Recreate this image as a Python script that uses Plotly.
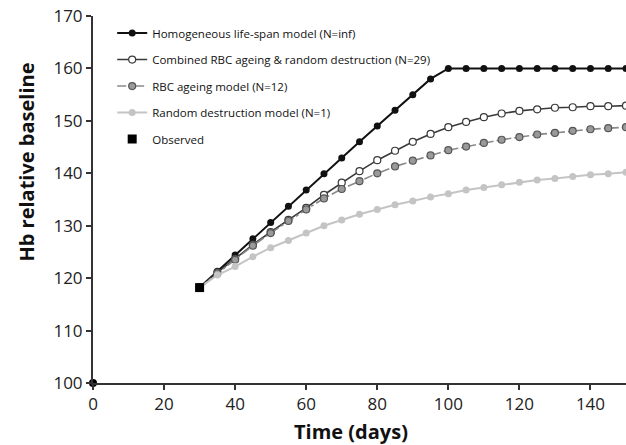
import plotly.graph_objects as go

# Time points (days) for the model curves
days = [30, 35, 40, 45, 50, 55, 60, 65, 70, 75, 80, 85, 90, 95, 100,
        105, 110, 115, 120, 125, 130, 135, 140, 145, 150]

# Hb relative to baseline for each model
homogeneous = [118.2, 121.3, 124.4, 127.5, 130.6, 133.7, 136.8, 139.9, 142.9, 146.0,
               149.0, 152.0, 155.0, 158.0, 160.0, 160.0, 160.0, 160.0, 160.0, 160.0,
               160.0, 160.0, 160.0, 160.0, 160.0]
combined = [118.2, 121.1, 123.7, 126.4, 128.8, 131.1, 133.4, 135.9, 138.2, 140.4,
            142.5, 144.3, 146.0, 147.5, 148.8, 149.8, 150.7, 151.4, 151.9, 152.2,
            152.5, 152.6, 152.8, 152.8, 152.9]
ageing = [118.2, 120.9, 123.5, 126.2, 128.6, 130.9, 133.1, 135.2, 137.0, 138.5,
          140.0, 141.3, 142.4, 143.4, 144.4, 145.1, 145.8, 146.4, 146.9, 147.4,
          147.7, 148.1, 148.4, 148.6, 148.8]
random_destr = [118.2, 120.6, 122.2, 124.1, 125.8, 127.2, 128.6, 130.0, 131.1, 132.2,
                133.1, 134.0, 134.7, 135.5, 136.1, 136.8, 137.3, 137.8, 138.3, 138.7,
                139.0, 139.4, 139.7, 139.9, 140.2]

# Observed data
obs_days = [30]
obs_hb = [118.2]
baseline_day = [0]
baseline_hb = [100]

x_ticks = [0, 20, 40, 60, 80, 100, 120, 140]
y_ticks = [100, 110, 120, 130, 140, 150, 160, 170]

fig = go.Figure()

fig.add_trace(go.Scatter(
    x=days, y=homogeneous, mode="lines+markers",
    name="Homogeneous life-span model (N=inf)", legendgroup="a",
    line=dict(color="#111111", width=2),
    marker=dict(symbol="circle", size=7, color="#111111"),
))
fig.add_trace(go.Scatter(
    x=days, y=combined, mode="lines+markers",
    name="Combined RBC ageing & random destruction (N=29)", legendgroup="b",
    line=dict(color="#3a3a3a", width=1.6),
    marker=dict(symbol="circle", size=7, color="#ffffff",
                line=dict(color="#3a3a3a", width=1.2)),
))
fig.add_trace(go.Scatter(
    x=days, y=ageing, mode="lines+markers",
    name="RBC ageing model (N=12)", legendgroup="c",
    line=dict(color="#8a8a8a", width=1.6, dash="dashdot"),
    marker=dict(symbol="circle", size=7, color="#9a9a9a",
                line=dict(color="#555555", width=1.2)),
))
fig.add_trace(go.Scatter(
    x=days, y=random_destr, mode="lines+markers",
    name="Random destruction model (N=1)", legendgroup="d",
    line=dict(color="#c4c4c4", width=2),
    marker=dict(symbol="circle", size=7, color="#c4c4c4"),
))
fig.add_trace(go.Scatter(
    x=obs_days, y=obs_hb, mode="markers",
    name="Observed", legendgroup="e",
    marker=dict(symbol="square", size=9, color="#000000"),
))
fig.add_trace(go.Scatter(
    x=baseline_day, y=baseline_hb, mode="markers", showlegend=False,
    marker=dict(symbol="circle", size=8, color="#000000"),
))

axis_font = dict(family="Open Sans, sans-serif", size=17, color="#222222")
title_font = dict(family="Open Sans, sans-serif", size=20, color="#111111")

fig.update_layout(
    width=626, height=445,
    margin=dict(l=93, r=0, t=16, b=62),
    paper_bgcolor="white", plot_bgcolor="white",
    showlegend=True,
    legend=dict(
        x=0.036, y=0.993, xanchor="left", yanchor="top",
        bgcolor="rgba(0,0,0,0)",
        font=dict(family="Open Sans, sans-serif", size=11.5, color="#111111"),
        traceorder="grouped", tracegroupgap=7.5,
        itemwidth=30,
    ),
    xaxis=dict(
        range=[0, 150], tickvals=x_ticks,
        showgrid=False, zeroline=False,
        showline=True, linecolor="#333333", linewidth=2,
        ticks="outside", ticklen=5, tickwidth=1.5, tickcolor="#333333",
        tickfont=axis_font,
    ),
    yaxis=dict(
        range=[100, 170], tickvals=y_ticks,
        showgrid=False, zeroline=False,
        showline=True, linecolor="#333333", linewidth=2,
        ticks="outside", ticklen=5, tickwidth=1.5, tickcolor="#333333",
        tickfont=axis_font,
    ),
    annotations=[
        dict(text="<b>Time (days)</b>", xref="paper", yref="paper",
             x=0.484, y=-0.131, xanchor="center", yanchor="middle",
             showarrow=False, font=title_font),
        dict(text="<b>Hb relative baseline</b>", xref="paper", yref="paper",
             x=-0.124, y=0.603, xanchor="center", yanchor="middle",
             textangle=-90, showarrow=False, font=title_font),
    ],
)

fig.update_traces(cliponaxis=False)

fig.write_html("out.html")
